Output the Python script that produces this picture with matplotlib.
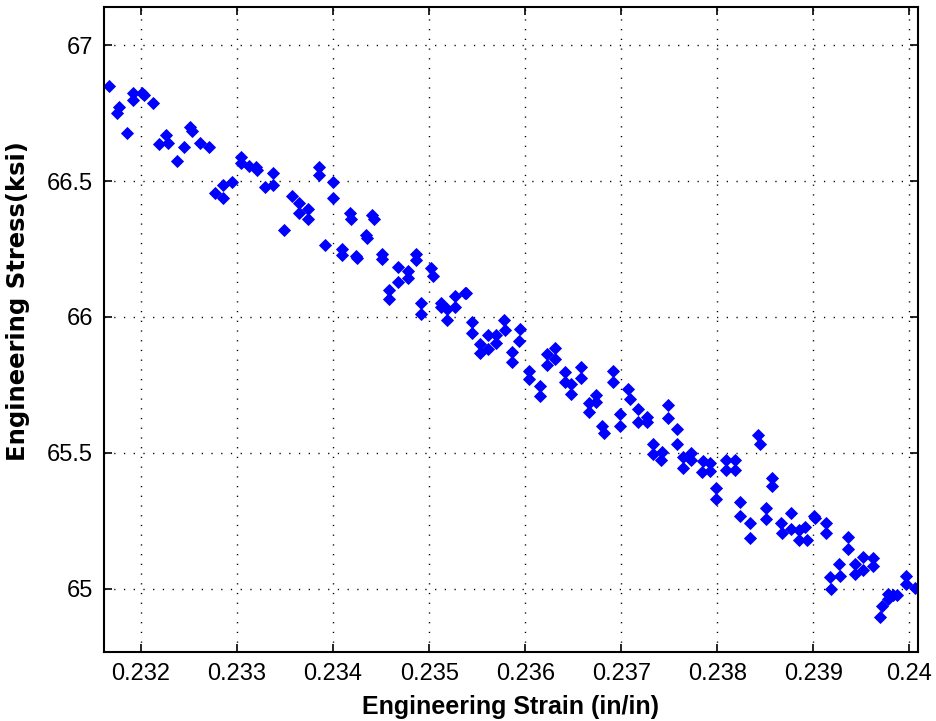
import matplotlib
matplotlib.use("Agg")
import matplotlib.pyplot as plt

# Engineering strain (in/in) and stress (ksi) samples
strain = [
    0.23167, 0.23175, 0.23177, 0.23185, 0.23192, 0.23192, 0.23201, 0.23203, 0.23212, 0.23219,
    0.23226, 0.23228, 0.23237, 0.23245, 0.23251, 0.23253, 0.23261, 0.23271, 0.23277, 0.23285,
    0.23285, 0.23295, 0.23304, 0.23304, 0.23312, 0.23320, 0.23321, 0.23329, 0.23337, 0.23337,
    0.23349, 0.23357, 0.23365, 0.23365, 0.23374, 0.23374, 0.23385, 0.23385, 0.23392, 0.23400,
    0.23400, 0.23409, 0.23409, 0.23418, 0.23419, 0.23424, 0.23425, 0.23434, 0.23435, 0.23441,
    0.23443, 0.23451, 0.23451, 0.23458, 0.23458, 0.23468, 0.23468, 0.23478, 0.23478, 0.23486,
    0.23486, 0.23492, 0.23492, 0.23502, 0.23504, 0.23512, 0.23512, 0.23519, 0.23519, 0.23527,
    0.23527, 0.23537, 0.23538, 0.23545, 0.23545, 0.23553, 0.23553, 0.23561, 0.23561, 0.23570,
    0.23570, 0.23578, 0.23579, 0.23586, 0.23586, 0.23595, 0.23594, 0.23604, 0.23604, 0.23615,
    0.23615, 0.23623, 0.23623, 0.23631, 0.23631, 0.23641, 0.23641, 0.23648, 0.23648, 0.23658,
    0.23658, 0.23666, 0.23666, 0.23674, 0.23674, 0.23680, 0.23682, 0.23691, 0.23691, 0.23699,
    0.23699, 0.23707, 0.23709, 0.23717, 0.23717, 0.23727, 0.23727, 0.23733, 0.23733, 0.23742,
    0.23741, 0.23749, 0.23749, 0.23758, 0.23758, 0.23764, 0.23764, 0.23773, 0.23773, 0.23785,
    0.23784, 0.23792, 0.23792, 0.23799, 0.23799, 0.23809, 0.23809, 0.23818, 0.23818, 0.23824,
    0.23824, 0.23834, 0.23834, 0.23842, 0.23844, 0.23851, 0.23851, 0.23857, 0.23857, 0.23866,
    0.23867, 0.23877, 0.23877, 0.23885, 0.23885, 0.23891, 0.23893, 0.23901, 0.23902, 0.23913,
    0.23913, 0.23917, 0.23918, 0.23927, 0.23928, 0.23936, 0.23936, 0.23943, 0.23943, 0.23952,
    0.23952, 0.23962, 0.23962, 0.23969, 0.23971, 0.23978, 0.23978, 0.23983, 0.23987, 0.23996,
    0.23996, 0.24006,
]
stress = [
    66.849, 66.749, 66.772, 66.678, 66.825, 66.798, 66.825, 66.816, 66.788, 66.635,
    66.669, 66.639, 66.574, 66.624, 66.700, 66.684, 66.639, 66.624, 66.457, 66.485,
    66.439, 66.496, 66.589, 66.567, 66.557, 66.551, 66.540, 66.477, 66.528, 66.485,
    66.320, 66.445, 66.418, 66.382, 66.396, 66.360, 66.550, 66.522, 66.266, 66.496,
    66.438, 66.250, 66.228, 66.384, 66.360, 66.224, 66.216, 66.300, 66.290, 66.375,
    66.360, 66.232, 66.212, 66.099, 66.065, 66.183, 66.128, 66.170, 66.143, 66.232,
    66.208, 66.050, 66.010, 66.182, 66.152, 66.053, 66.035, 66.028, 65.989, 66.077,
    66.037, 66.090, 66.087, 65.982, 65.940, 65.900, 65.869, 65.934, 65.884, 65.934,
    65.903, 65.989, 65.952, 65.870, 65.833, 65.955, 65.912, 65.803, 65.772, 65.746,
    65.710, 65.864, 65.824, 65.885, 65.845, 65.797, 65.760, 65.754, 65.717, 65.817,
    65.774, 65.685, 65.650, 65.713, 65.689, 65.600, 65.572, 65.802, 65.761, 65.642,
    65.600, 65.734, 65.699, 65.662, 65.615, 65.631, 65.615, 65.533, 65.496, 65.505,
    65.474, 65.676, 65.630, 65.588, 65.532, 65.486, 65.444, 65.499, 65.474, 65.469,
    65.429, 65.462, 65.435, 65.372, 65.331, 65.474, 65.438, 65.474, 65.438, 65.318,
    65.268, 65.242, 65.189, 65.566, 65.532, 65.297, 65.256, 65.407, 65.379, 65.242,
    65.207, 65.278, 65.222, 65.217, 65.179, 65.229, 65.180, 65.268, 65.261, 65.243,
    65.207, 65.042, 65.000, 65.091, 65.049, 65.192, 65.146, 65.092, 65.055, 65.117,
    65.069, 65.112, 65.084, 64.896, 64.938, 64.983, 64.964, 64.978, 64.976, 65.049,
    65.019, 65.004,
]

x_ticks = [0.232, 0.233, 0.234, 0.235, 0.236, 0.237, 0.238, 0.239, 0.240]
x_tick_labels = ["0.232", "0.233", "0.234", "0.235", "0.236", "0.237", "0.238", "0.239", "0.24"]
y_ticks = [65.0, 65.5, 66.0, 66.5, 67.0]
y_tick_labels = ["65", "65.5", "66", "66.5", "67"]

plt.rcParams["font.family"] = ["Liberation Sans", "DejaVu Sans"]

fig = plt.figure(figsize=(9.37, 7.21), dpi=100)
ax = fig.add_axes([104 / 937, 1 - 652 / 721, (918 - 104) / 937, (652 - 7) / 721])

ax.plot(strain, stress, linestyle="none", marker="D", markersize=6.2,
        markerfacecolor="#0000ff", markeredgecolor="#0000ff", markeredgewidth=0.6)

ax.set_xlim(0.231615, 0.240089)
ax.set_ylim(64.768, 67.140)

ax.set_xticks(x_ticks)
ax.set_xticklabels(x_tick_labels)
ax.set_yticks(y_ticks)
ax.set_yticklabels(y_tick_labels)

ax.grid(True, color="black", linewidth=1.0, linestyle=(0, (0.9, 6.1)))
ax.set_axisbelow(True)

for s in ax.spines.values():
    s.set_linewidth(1.5)
    s.set_color("black")

ax.tick_params(axis="both", which="major", direction="in", length=6, width=1.2,
               top=True, right=True, labelsize=17, colors="black", pad=8)

ax.set_xlabel("Engineering Strain (in/in)", fontsize=18, fontweight="bold", labelpad=7)
ax.set_ylabel("Engineering Stress(ksi)", fontsize=17.5, fontweight="bold",
              family=["DejaVu Sans"])
ax.yaxis.set_label_coords(-0.091, 0.544)

fig.savefig("out.png", dpi=100, facecolor="white")
